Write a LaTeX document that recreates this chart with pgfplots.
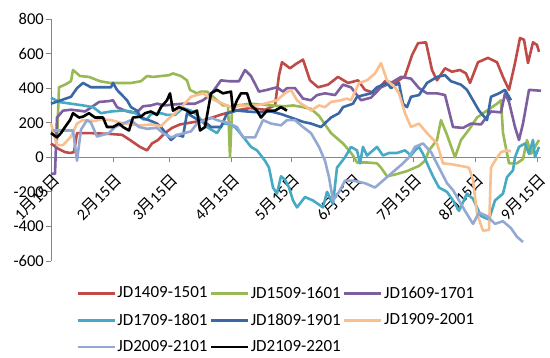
\documentclass[border=0pt]{standalone}
\usepackage{fontspec}
\setmainfont{Carlito}
\newfontfamily\cjk{Noto Sans CJK SC}
\usepackage{pgfplots}
\pgfplotsset{compat=1.18}
\definecolor{cRed}{HTML}{BE4B48}
\definecolor{cGreen}{HTML}{98B954}
\definecolor{cPurple}{HTML}{7D5FA0}
\definecolor{cTeal}{HTML}{46AAC5}
\definecolor{cBlue}{HTML}{3A67A6}
\definecolor{cOrange}{HTML}{F9BF8F}
\definecolor{cLBlue}{HTML}{93A9D3}
\definecolor{axgray}{HTML}{868686}
\newcommand{\md}[1]{#1{\cjk 月}15{\cjk 日}}
\begin{document}
\begin{tikzpicture}
\useasboundingbox (-51pt,-97pt) rectangle (499pt,261pt);
\begin{axis}[
  scale only axis, width=490pt, height=242pt,
  at={(0,0)}, anchor=south west,
  xmin=0, xmax=245, ymin=-600, ymax=800,
  axis x line=middle, axis y line=left,
  hide obscured x ticks=false, hide obscured y ticks=false,
  axis line style={axgray, line width=0.8pt, -},
  xtick={0,31,59,90,120,151,181,212,243},
  xticklabels={\md{1},\md{2},\md{3},\md{4},\md{5},\md{6},\md{7},\md{8},\md{9}},
  ytick={-600,-400,-200,0,200,400,600,800},
  tick align=outside, major tick length=5pt,
  tick style={axgray, line width=0.8pt},
  /pgf/number format/assume math mode=true,
  yticklabel style={font=\fontsize{16.5}{18}\selectfont, text=black, inner sep=1pt, xshift=-1pt},
  xticklabel style={font=\fontsize{16}{18}\selectfont, text=black, xshift=6pt, yshift=-15pt, rotate=45, anchor=east, inner sep=0pt},
  every axis plot/.append style={line width=2.6pt, line join=round, mark=none},
  legend style={at={(22pt,-23pt)}, anchor=north west, draw=none, fill=none,
    font=\fontsize{17}{19}\selectfont, legend columns=3,
    nodes={inner sep=0.5pt},
    /tikz/every odd column/.append style={column sep=1pt},
    /tikz/every even column/.append style={column sep=1.5pt},
    row sep=13pt, legend cell align=left},
  legend image code/.code={\draw[#1, line width=2.8pt] (0pt,0pt) -- (37pt,0pt);},
  clip=false,
]
% JD1409-1501
\addplot[cRed] table {
0 80
3.5 50
7 30
9.5 25
11.5 30
13 140
19.5 140
29.5 135
35.5 130
39.5 100
44.5 60
48 40
50.5 80
53.5 100
57 140
60.5 170
64.5 190
69.5 200
74.5 210
79.5 225
84.5 245
92 270
99.5 285
107 275
112 300
114 475
115.5 550
119.5 515
122.5 540
126 565
129.5 445
133.5 405
138.5 420
143.5 465
148.5 430
153.5 445
157 390
162 370
167 440
172 430
177 470
180.5 590
183.5 660
187.5 665
190.5 505
193 445
197 515
200.5 495
204.5 505
207.5 485
209.5 430
213.5 550
218.5 575
223 550
226 465
229 390
232 545
234.5 690
236.5 680
238.5 545
241 665
243 650
244 610
};
\addlegendentry{JD1409-1501}
% JD1509-1601
\addplot[cGreen] table {
3 100
4 405
7 420
10 440
11 505
14.5 470
19 465
24.5 440
29.5 430
35 430
40 430
45 440
48 470
51 465
55 470
59 475
61 485
65 470
68 445
69.5 390
73 370
75 380
78 380
80 360
83 330
86 300
88.5 300
89.5 0
90.5 270
93 300
100 310
110 300
117 295
121 300
126 290
130 280
134 240
137 190
140 140
143 110
146 80
149 40
151 10
153 -30
158 -30
163 -35
165 -60
168 -110
172 -100
178 -80
184 -50
187 -20
189 40
193 100
195 215
198 130
202 0
205 100
209 160
213 230
218 270
223 310
225 330
226 140
229 -35
233 -35
236 -10
238 100
240 20
242 60
244 100
};
\addlegendentry{JD1509-1601}
% JD1609-1701
\addplot[cPurple] table {
0 -95
2 -95
3 230
6 270
10 275
14 270
17 265
19 280
24 320
29 325
31 330
33 290
37 270
40 260
43 260
46 295
50 300
53 310
57 300
61 305
66 310
72 310
76 330
80 365
85 445
89 440
94 440
97 505
100 470
104 380
108 390
113 405
116 380
118 400
122 400
126 340
130 330
133 360
137 370
142 360
146 420
150 405
155 330
160 345
165 405
170 430
175 465
180 455
184 400
188 370
193 370
197 360
201 175
206 170
210 195
215 190
220 265
225 260
227 370
229 320
232 175
234 100
236 195
239 390
245 385
};
\addlegendentry{JD1609-1701}
% JD1709-1801
\addplot[cTeal] table {
0 345
4 320
10 310
16 300
21 290
25 255
30 265
36 270
40 265
43 250
46 220
48 220
50 250
55 255
58 245
62 245
66 285
70 270
73 245
78 175
83 140
86 195
89 195
92 175
96 120
100 60
103 40
107 -20
109 -60
111 -175
113 -210
115 -110
117 -130
119 -175
121 -250
123 -290
127 -230
131 -250
136 -290
138 -200
141 -270
143 -60
147 0
150 60
153 40
154.5 -35
156 60
158 10
163 60
166 10
169 25
173 25
177 40
180 10
182 40
184 60
186 20
189 -60
191 -110
194 -175
198 -200
201 -250
204 -310
208 -210
211 -240
215 -340
219 -360
222 -250
226 -210
228 -115
231 -75
232 0
234 60
237 80
239 20
241 100
242 0
244 60
};
\addlegendentry{JD1709-1801}
% JD1809-1901
\addplot[cBlue] table {
0 310
5 330
10 350
13 400
16 430
20 405
30 405
31 430
33 390
38 330
40 290
43 270
45 230
50 210
53 195
55 175
60 100
63 130
66 120
68 255
73 220
78 195
80 175
85 175
88 255
93 270
98 265
104 260
110 265
115 250
120 230
126 205
130 195
135 175
140 230
144 255
146 290
151 310
153 350
160 370
163 405
168 430
170 400
174 430
176 310
178 290
180 350
184 360
188 430
193 465
197 475
200 440
205 420
208 390
211 330
214 270
218 215
220 350
224 370
227 390
230 330
};
\addlegendentry{JD1809-1901}
% JD1909-2001
\addplot[cOrange] table {
0 195
3 70
6 70
10 120
13 195
16 215
22 210
25 220
30 215
35 200
40 190
45 185
50 190
55 180
58 215
62 255
66 300
70 350
76 370
80 340
84 320
90 290
95 300
100 295
105 305
110 320
113 330
117 370
120 390
123 330
125 310
128 290
130 270
134 300
137 290
140 320
145 330
148 340
150 330
154 430
158 445
162 485
165 545
168 445
172 405
174 370
177 255
180 175
184 195
188 140
193 80
196 -35
200 -40
205 -50
209 -60
211 -130
213 -325
216 -425
219 -420
220 -60
222 -20
225 30
228 40
230 35
};
\addlegendentry{JD1909-2001}
% JD2009-2101
\addplot[cLBlue] table {
1 155
5 155
11 155
13 -20
15 160
18 215
20 200
23 120
26 130
29 140
32 175
36 195
40 215
44 175
48 165
53 170
56 140
60 115
65 135
70 150
73 195
77 215
80 230
83 215
88 200
93 175
96 115
102 115
106 215
110 195
115 185
118 215
122 215
126 175
130 140
134 60
137 -20
139 -115
141 -250
144 -200
147 -135
151 -135
157 -150
162 -175
168 -115
172 -75
176 -35
179 0
182 60
186 80
190 30
194 -60
198 -150
201 -190
204 -250
207 -310
211 -385
214 -320
218 -340
222 -385
226 -370
230 -410
233 -460
236 -490
};
\addlegendentry{JD2009-2101}
% JD2109-2201
\addplot[black] table {
0 140
3 115
5 140
7 175
9.5 215
11 255
14 230
16 235
19 255
22 230
26 230
28 175
31 175
34 195
36 175
39 155
41 230
45 235
47 255
50 265
53 245
55 290
58 330
59.5 370
61 270
64 290
68 270
70 255
73 270
74.5 155
77 175
80 370
83 390
86 370
90 380
91 270
93 330
95 370
98 370
100 300
103 270
105 230
108 270
112 270
115 290
118 270
};
\addlegendentry{JD2109-2201}
\end{axis}
\end{tikzpicture}
\end{document}
